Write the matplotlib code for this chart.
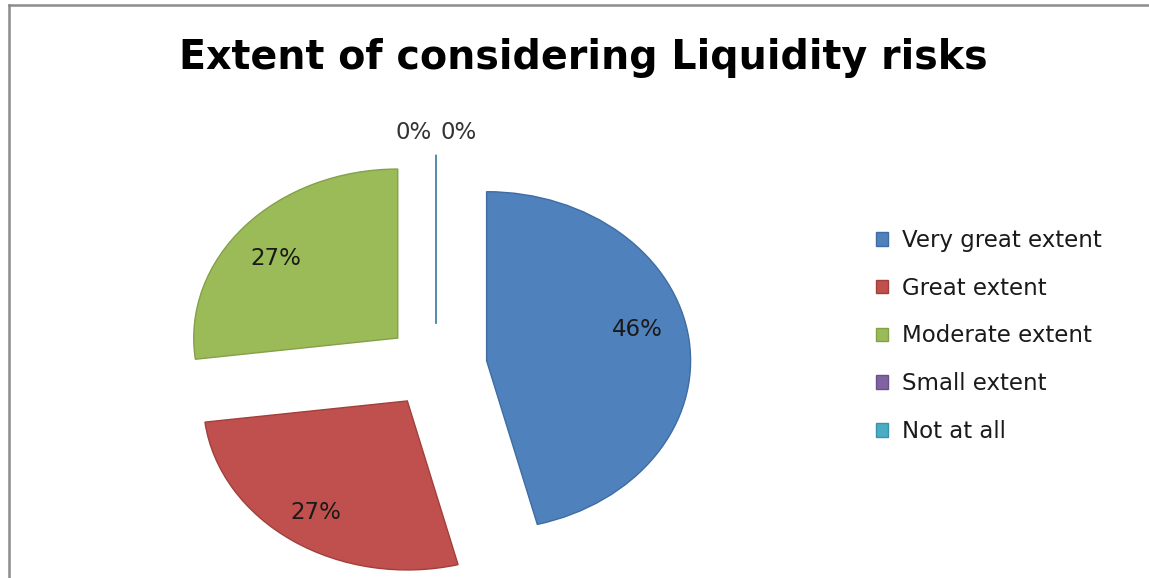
import matplotlib
matplotlib.use("Agg")
import matplotlib.pyplot as plt
from matplotlib.lines import Line2D
import numpy as np

title = "Extent of considering Liquidity risks"
categories = ["Very great extent", "Great extent", "Moderate extent", "Small extent", "Not at all"]
shares = [46, 27, 27, 0, 0]
colors = ["#4F81BD", "#C0504D", "#9BBB59", "#8064A2", "#4BACC6"]
edges = ["#3F6CA3", "#A13F3C", "#84A048", "#6A5088", "#3A93AC"]

W, H = 1149, 578
FONT = "DejaVu Sans"
fig = plt.figure(figsize=(W / 100, H / 100), dpi=100)
fig.patch.set_facecolor("white")

# pie centre and radii in pixels (the chart is stretched horizontally)
cx, cy = 436, 366
rx, ry = 204, 169

ax = fig.add_axes([0, 0, 1, 1])
wedges, texts, autotexts = ax.pie(
    shares, colors=colors, startangle=90, counterclock=False,
    explode=[0.25] * len(shares), autopct="%d%%", pctdistance=0.78,
    wedgeprops=dict(linewidth=1.0),
    textprops=dict(fontsize=16.5, family=FONT, color="#1a1a1a"),
)
for w, ec in zip(wedges, edges):
    w.set_edgecolor(ec)
ax.set_aspect("auto")
ax.set_xlim(-cx / rx, (W - cx) / rx)
ax.set_ylim(-(H - cy) / ry, cy / ry)
ax.axis("off")

# label placement tweaks (angle offset in degrees, radial fraction)
def place(txt, wedge, dtheta, r):
    th = np.deg2rad((wedge.theta1 + wedge.theta2) / 2 + dtheta)
    x0, y0 = wedge.center
    txt.set_position((x0 + r * np.cos(th), y0 + r * np.sin(th)))

place(autotexts[0], wedges[0], 7, 0.76)
place(autotexts[1], wedges[1], 0, 0.80)
place(autotexts[2], wedges[2], 3, 0.76)
for t, w, dx in zip(autotexts[3:], wedges[3:], (-0.11, 0.11)):
    x0, y0 = w.center
    t.set_position((x0 + dx, y0 + 1.13))
    t.set_color("#333333")

fig.text(583 / W, 1 - 58 / H, title, ha="center", va="center",
         fontsize=28.5, fontweight="bold", family=FONT, color="black")

fig.legend(wedges, categories, loc="upper left",
           bbox_to_anchor=(876 / W, 1 - 229 / H), frameon=False,
           prop=dict(family=FONT, size=16.5), handlelength=0.52,
           handleheight=0.52, handletextpad=0.62, labelspacing=1.08,
           borderpad=0, borderaxespad=0, labelcolor="#1a1a1a")

# chart-area border on left and top
fig.add_artist(Line2D([8.5 / W, 8.5 / W], [0, 1 - 5 / H], color="#8c8c8c", lw=1.8))
fig.add_artist(Line2D([8.5 / W, 1], [1 - 5 / H, 1 - 5 / H], color="#8c8c8c", lw=1.8))

fig.savefig("out.png", dpi=100, facecolor="white")
